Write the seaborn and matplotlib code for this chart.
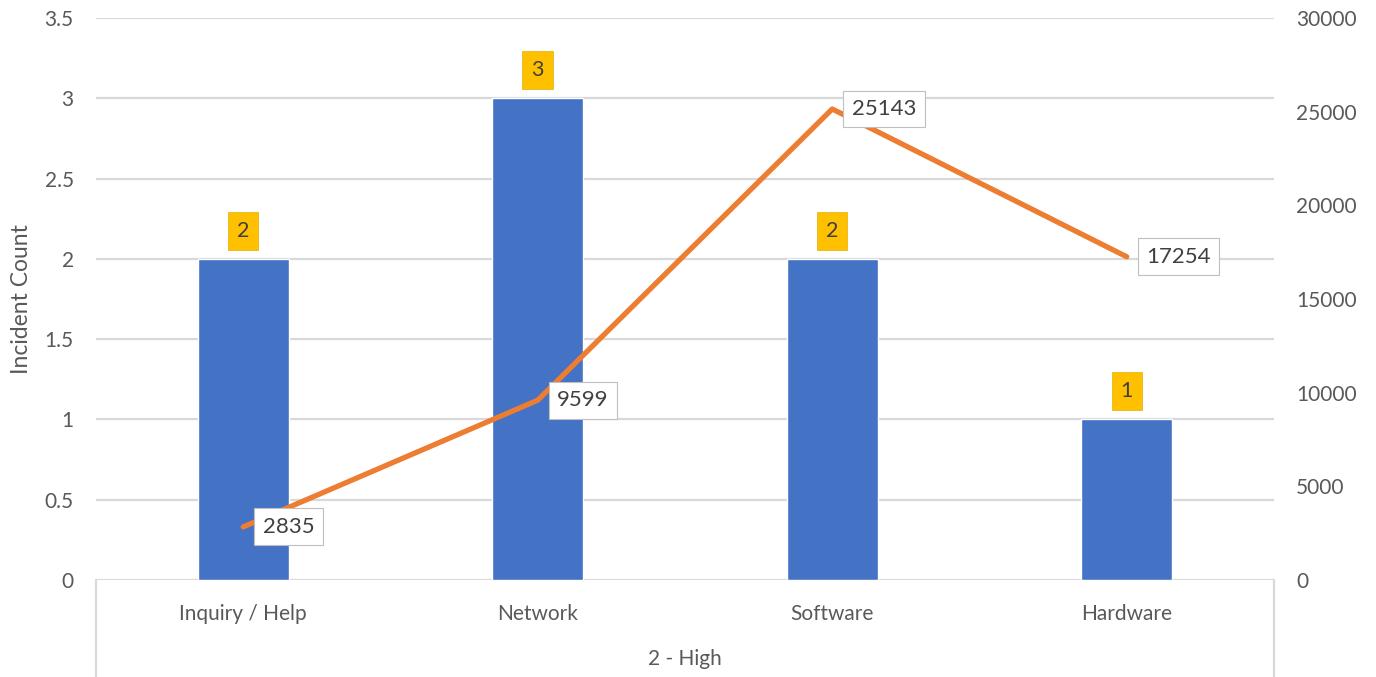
import matplotlib
matplotlib.use("Agg")
import matplotlib.pyplot as plt
import matplotlib.transforms as mtransforms
import seaborn as sns
import pandas as pd

categories = ["Inquiry / Help", "Network", "Software", "Hardware"]
incident_counts = [2, 3, 2, 1]
line_values = [2835, 9599, 25143, 17254]
group_label = "2 - High"
left_ticks = [0, 0.5, 1, 1.5, 2, 2.5, 3, 3.5]
left_tick_labels = ["0", "0.5", "1", "1.5", "2", "2.5", "3", "3.5"]
right_ticks = [0, 5000, 10000, 15000, 20000, 25000, 30000]

sns.set_theme(style="white")
plt.rcParams["font.family"] = ["Lato", "DejaVu Sans"]

BLUE = "#4472C4"
ORANGE = "#ED7D31"
GOLD = "#FFC000"
GRID = "#D9D9D9"
TXT = "#595959"

df = pd.DataFrame({"category": categories, "count": incident_counts, "value": line_values})

fig = plt.figure(figsize=(13.76, 6.77), dpi=100)
ax = fig.add_axes([96 / 1376, 1 - 580 / 677, (1274 - 96) / 1376, (580 - 18) / 677])

sns.barplot(data=df, x="category", y="count", color=BLUE, width=0.31, saturation=1, ax=ax, zorder=2)
ax.set_ylim(0, 3.5)
ax.set_xlim(-0.5, 3.5)
ax.set_yticks(left_ticks)
ax.set_yticklabels(left_tick_labels)
ax.yaxis.grid(True, color=GRID, linewidth=1.6, zorder=0)
ax.set_axisbelow(True)
for s in ax.spines.values():
    s.set_visible(False)
ax.tick_params(axis="y", length=0, pad=16, labelsize=15, labelcolor=TXT)
ax.tick_params(axis="x", length=0, pad=17, labelsize=15, labelcolor=TXT)
ax.set_xlabel("")
ax.set_ylabel("Incident Count", fontsize=16.5, color=TXT, va="center")
ax.yaxis.set_label_coords(-(96 - 22) / 1178, 0.5)

# bar value labels
for i, v in enumerate(incident_counts):
    ax.annotate(str(v), (i, v), xytext=(0, 13), textcoords="offset points",
                ha="center", va="bottom", fontsize=15.5, color="#404040", zorder=5,
                bbox=dict(boxstyle="square,pad=0.42", fc=GOLD, ec="#E0B000", lw=0.5))

ax2 = ax.twinx()
sns.lineplot(x=list(range(len(categories))), y=line_values, color=ORANGE, linewidth=3.8,
             sort=False, ax=ax2, zorder=3, solid_capstyle="round")
ax2.set_ylim(0, 30000)
ax2.set_xlim(-0.5, 3.5)
ax2.set_yticks(right_ticks)
ax2.set_yticklabels([str(t) for t in right_ticks])
ax2.tick_params(axis="y", length=0, pad=16, labelsize=15, labelcolor=TXT)
ax2.grid(False)
for s in ax2.spines.values():
    s.set_visible(False)

for i, v in enumerate(line_values):
    ax2.annotate(str(v), (i, v), xytext=(14, 0), textcoords="offset points",
                 ha="left", va="center", fontsize=16, color="#404040", zorder=6,
                 bbox=dict(boxstyle="square,pad=0.38", fc="white", ec="#BFBFBF", lw=0.8))

# grouped category axis frame
trans = mtransforms.blended_transform_factory(ax.transAxes, fig.transFigure)
for xa in (0, 1):
    ax.plot([xa, xa], [1 - 580 / 677, 0], transform=trans, color=GRID, lw=1.6, clip_on=False)
ax.text(0.5, 1 - 659 / 677, group_label, transform=trans, ha="center", va="center",
        fontsize=15, color=TXT)

fig.savefig("out.png", dpi=100)
